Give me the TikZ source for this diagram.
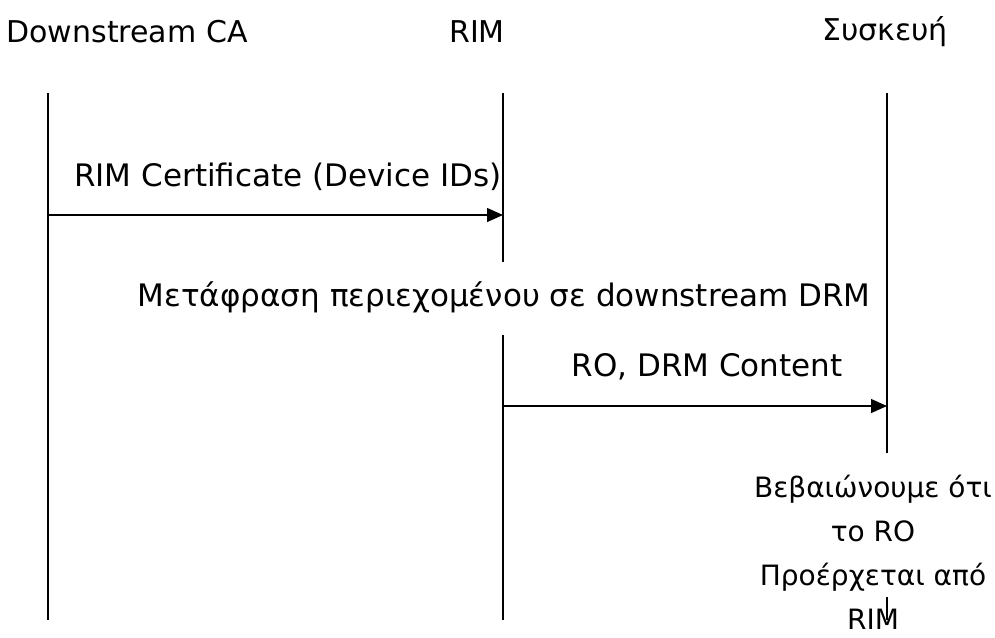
\documentclass[tikz,border=0pt]{standalone}
\usepackage{fontspec}
\setmainfont{DejaVu Sans}
\usetikzlibrary{arrows.meta}
\begin{document}
\begin{tikzpicture}[x=1pt, y=-1pt,
  lbl/.style={font=\fontsize{31}{44}\selectfont, inner sep=0pt, anchor=center},
  head/.style={lbl, font=\fontsize{30}{36}\selectfont},
  note/.style={lbl, font=\fontsize{28}{44}\selectfont, align=center},
  lifeline/.style={line width=1.4pt},
  msg/.style={line width=1.3pt, -{Triangle[length=16pt,width=14pt]}}]
\useasboundingbox (0,0) rectangle (995,637);

% participants
\node[head] (ca)  at (127,32) {Downstream CA};
\node[head] (rim) at (477,32) {RIM};
\node[head] (dev) at (885,32) {Συσκευή};

% lifeline anchor points
\coordinate (caTop)  at (48,93);
\coordinate (caBot)  at (48,620);
\coordinate (rimTop) at (503,93);
\coordinate (rimA)   at (503,262);
\coordinate (rimB)   at (503,335);
\coordinate (rimBot) at (503,620);
\coordinate (devTop) at (887,93);
\coordinate (devA)   at (887,453);
\coordinate (devB)   at (887,597);
\coordinate (devBot) at (887,620);

\draw[lifeline] (caTop) -- (caBot);
\draw[lifeline] (rimTop) -- (rimA);
\draw[lifeline] (rimB) -- (rimBot);
\draw[lifeline] (devTop) -- (devA);

% messages
\coordinate (m1s) at (48,215);
\coordinate (m1e) at (503,215);
\coordinate (m2s) at (503,406);
\coordinate (m2e) at (887,406);

\node[lbl] (cert) at (288,177) {RIM Certificate (Device IDs)};
\draw[msg] (m1s) -- (m1e);

\node[lbl] (trans) at (504,297) {Μετάφραση περιεχομένου σε downstream DRM};

\node[lbl] (ro) at (707,367) {RO, DRM Content};
\draw[msg] (m2s) -- (m2e);

\node[note] (check) at (873,552)
  {Βεβαιώνουμε ότι\\το RO\\Προέρχεται από\\RIM};

\draw[lifeline] (devB) -- (devBot);
\end{tikzpicture}
\end{document}
